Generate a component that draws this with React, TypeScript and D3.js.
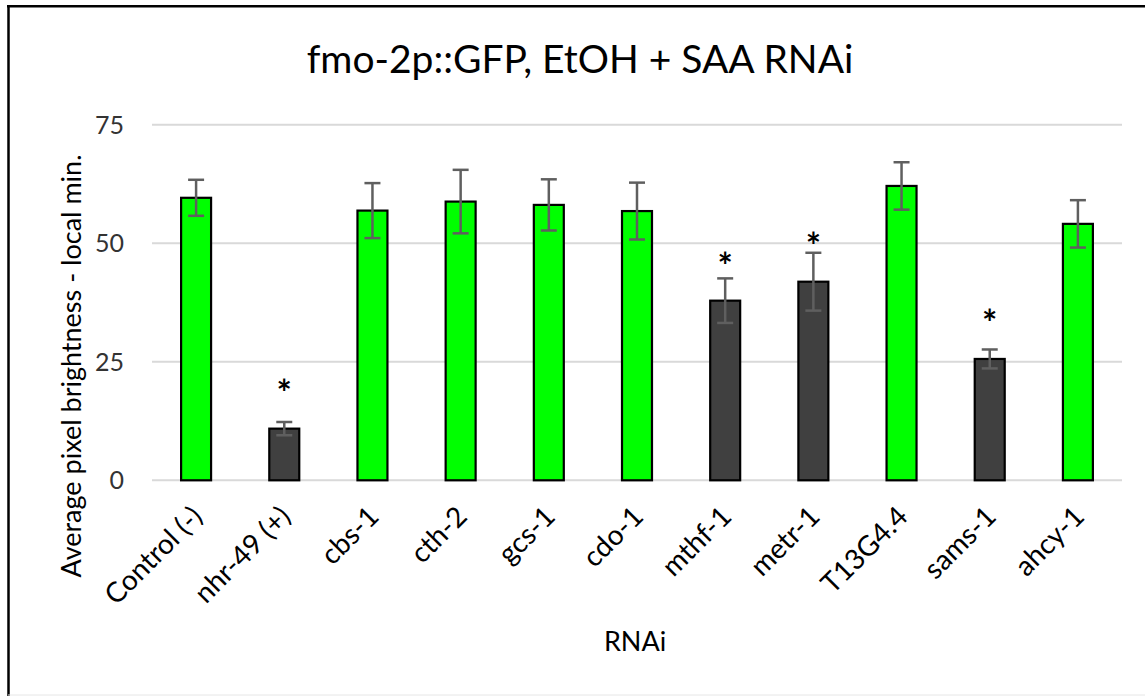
import React from 'react';
import * as d3 from 'd3';

// values
const categories = ['Control (-)', 'nhr-49 (+)', 'cbs-1', 'cth-2', 'gcs-1', 'cdo-1', 'mthf-1', 'metr-1', 'T13G4.4', 'sams-1', 'ahcy-1'];
const means      = [59.6, 10.9, 56.9, 58.8, 58.1, 56.8, 37.9, 41.9, 62.1, 25.6, 54.1];
const errors     = [3.8, 1.4, 5.8, 6.7, 5.4, 6.0, 4.7, 6.1, 5.0, 2.0, 5.0];
const starLevels = [null, 20.4, null, null, null, null, 47.2, 51.5, null, 35.1, null];
const yTicks     = [0, 25, 50, 75];

const W = 1145;
const H = 696;
const FONT = 'Lato, "Open Sans", sans-serif';

export default function App() {
  const x = d3.scaleBand<string>().domain(categories).range([152, 1122]).paddingInner(0.66).paddingOuter(0.33);
  const y = d3.scaleLinear().domain([0, 75]).range([480.3, 124.8]);
  const bw = x.bandwidth();
  const cap = 16;

  return (
    <svg width={W} height={H} style={{ position: 'absolute', left: 0, top: 0, display: 'block', background: '#fff' }}
      fontFamily={FONT}>
      {/* frame */}
      <line x1={8.5} y1={5} x2={8.5} y2={696} stroke="#000" strokeWidth={2.5} />
      <line x1={7} y1={6.3} x2={1145} y2={6.3} stroke="#000" strokeWidth={2.5} />
      <line x1={8} y1={695} x2={1145} y2={695} stroke="#e6e6e6" strokeWidth={1} />

      <text x={580} y={73} textAnchor="middle" fontSize={39} fill="#000">fmo-2p::GFP, EtOH + SAA RNAi</text>

      {/* grid + y ticks */}
      {yTicks.map(t => (
        <g key={t}>
          <line x1={152} x2={1122} y1={y(t)} y2={y(t)} stroke="#d9d9d9" strokeWidth={2} />
          <text x={124} y={y(t)} dy="0.35em" textAnchor="end" fontSize={25} fill="#333">{t}</text>
        </g>
      ))}

      {/* bars */}
      {categories.map((c, i) => {
        const cx = x(c)! + bw / 2;
        const sig = starLevels[i] !== null;
        return (
          <g key={c}>
            <rect x={x(c)} y={y(means[i])} width={bw} height={y(0) - y(means[i])}
              fill={sig ? '#404040' : '#00ff00'} stroke="#000" strokeWidth={2.2} />
            <g stroke="#5f5f5f" strokeWidth={2.5}>
              <line x1={cx} x2={cx} y1={y(means[i] + errors[i])} y2={y(means[i] - errors[i])} />
              <line x1={cx - cap / 2} x2={cx + cap / 2} y1={y(means[i] + errors[i])} y2={y(means[i] + errors[i])} />
              <line x1={cx - cap / 2} x2={cx + cap / 2} y1={y(means[i] - errors[i])} y2={y(means[i] - errors[i])} />
            </g>
            {sig && (
              <text x={cx} y={y(starLevels[i] as number)} dy="0.62em" textAnchor="middle" fontSize={36} fontWeight={700} fill="#000">*</text>
            )}
            <text transform={`translate(${cx + 8},${y(0) + 38}) rotate(-45)`} textAnchor="end"
              fontSize={28} fill="#000">{c}</text>
          </g>
        );
      })}

      <text x={635} y={651} textAnchor="middle" fontSize={27} fill="#000">RNAi</text>
      <text transform={`translate(81,366) rotate(-90)`} textAnchor="middle" fontSize={27} fill="#000">
        Average pixel brightness - local min.
      </text>
    </svg>
  );
}
